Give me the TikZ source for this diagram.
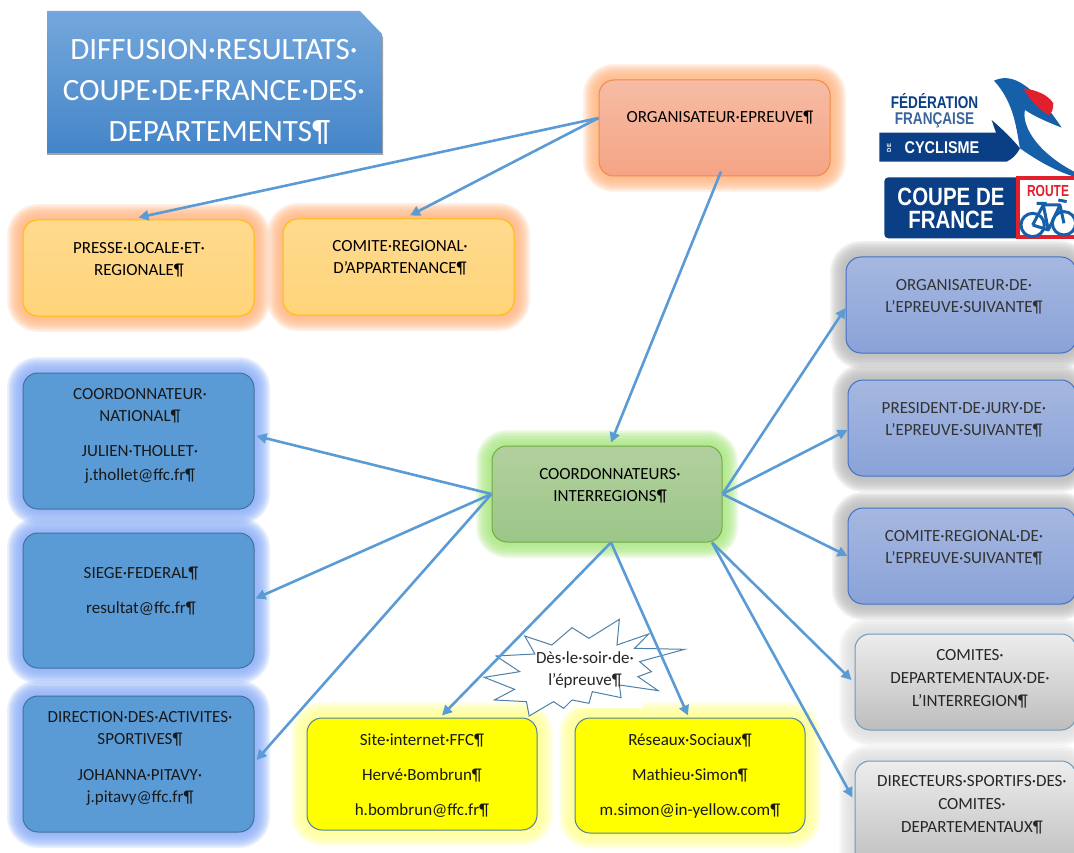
\documentclass[tikz,border=0pt]{standalone}
\usepackage{fontspec}
\setmainfont{Carlito}
\newfontfamily\logofont{Liberation Sans}
\usetikzlibrary{arrows.meta,backgrounds}
\definecolor{arrowblue}{RGB}{91,155,213}
\definecolor{logoblue}{RGB}{11,63,133}
\definecolor{logoswoosh}{RGB}{21,96,168}
\definecolor{logored}{RGB}{226,32,44}
\definecolor{titletop}{RGB}{116,167,220}\definecolor{titlebot}{RGB}{68,133,200}
\definecolor{orgline}{RGB}{240,138,75}\definecolor{orgtop}{RGB}{246,188,165}\definecolor{orgbot}{RGB}{245,164,132}
\definecolor{yelline}{RGB}{255,192,0}\definecolor{yeltop}{RGB}{255,218,142}\definecolor{yelbot}{RGB}{255,212,122}
\definecolor{grnline}{RGB}{112,173,71}\definecolor{grntop}{RGB}{178,208,158}\definecolor{grnbot}{RGB}{156,198,136}
\definecolor{bluline}{RGB}{65,113,156}\definecolor{blufill}{RGB}{91,155,213}
\definecolor{perline}{RGB}{68,114,196}\definecolor{pertop}{RGB}{165,184,224}\definecolor{perbot}{RGB}{138,162,216}
\definecolor{gryline}{RGB}{111,154,184}\definecolor{grytop}{RGB}{237,237,237}\definecolor{grybot}{RGB}{189,189,189}
\definecolor{ylwline}{RGB}{79,129,168}\definecolor{ylwfill}{RGB}{255,255,0}
\definecolor{gorange}{RGB}{255,180,128}\definecolor{gblue}{RGB}{138,173,247}\definecolor{ggreen}{RGB}{168,230,128}
\definecolor{ggrey}{RGB}{184,184,184}\definecolor{glight}{RGB}{220,220,220}\definecolor{gyellow}{RGB}{255,255,144}
\tikzset{
  x=1pt,y=-1pt,
  boxbase/.style={rectangle,rounded corners=15pt,line width=1pt,inner sep=0pt},
  txt/.style={align=center,inner sep=0pt,font=\fontsize{17}{22}\selectfont},
  orgbox/.style={boxbase,draw=orgline,top color=orgtop,bottom color=orgbot},
  yelbox/.style={boxbase,draw=yelline,top color=yeltop,bottom color=yelbot},
  greenbox/.style={boxbase,draw=grnline,top color=grntop,bottom color=grnbot},
  bluebox/.style={boxbase,draw=bluline,fill=blufill},
  perbox/.style={boxbase,draw=perline,top color=pertop,bottom color=perbot},
  greybox/.style={boxbase,draw=gryline,top color=grytop,bottom color=grybot},
  yellowbox/.style={boxbase,draw=ylwline,fill=ylwfill},
  conn/.style={draw=arrowblue,line width=2.6pt,-{Triangle[length=10pt,width=10pt]}},
  logotxt/.style={inner sep=0pt,text=logoblue,transform shape}
}
% name x0 y0 x1 y1 style glow
\newcommand{\bx}[7]{%
  \begin{pgfonlayer}{background}
    \foreach \r in {16,14.5,13,11.5,10,8.5,7,5.5,4,2.5,1}
      \draw[#7,opacity=.18,line width=2*\r pt,line join=round,rounded corners=15pt] (#2,#3) rectangle (#4,#5);
  \end{pgfonlayer}
  \node[#6,minimum width=#4pt-#2pt,minimum height=#5pt-#3pt] (#1) at ({(#2+#4)/2},{(#3+#5)/2}) {};
}
\begin{document}
\begin{tikzpicture}
\useasboundingbox (0,0) rectangle (1074,853);
\clip (0,0) rectangle (1074,853);

% title
\fill[black!60,opacity=.6] (47,15) -- (360,15) -- (383,37) -- (383,155) -- (47,155) -- cycle;
\shade[top color=titletop,bottom color=titlebot] (47,11) -- (360,11) -- (382,34) -- (382,153) -- (47,153) -- cycle;
\node[txt,text=white,font=\fontsize{31}{41}\selectfont] (title) at (214,92) {DIFFUSION·RESULTATS·\\COUPE·DE·FRANCE·DES·\\\hspace*{11pt}DEPARTEMENTS¶};

% boxes
\bx{org}{599}{80}{830}{176}{orgbox}{gorange}
\bx{press}{23}{220}{254}{316}{yelbox}{gorange}
\bx{comite}{283}{219}{514}{315}{yelbox}{gorange}
\bx{coord}{492}{446}{722}{542}{greenbox}{ggreen}
\bx{nat}{23}{373}{254}{509}{bluebox}{gblue}
\bx{siege}{23}{533}{254}{668}{bluebox}{gblue}
\bx{dir}{23}{696}{254}{832}{bluebox}{gblue}
\bx{orgs}{846}{257}{1076}{353}{perbox}{ggrey}
\bx{pres}{848}{380}{1076}{476}{perbox}{ggrey}
\bx{comreg}{848}{508}{1076}{604}{perbox}{ggrey}
\bx{comdep}{855}{634}{1076}{730}{greybox}{glight}
\bx{dirsp}{855}{761}{1076}{870}{greybox}{glight}
\bx{site}{307}{718}{537}{830}{yellowbox}{gyellow}
\bx{res}{575}{718}{805}{833}{yellowbox}{gyellow}

% star
\fill[white] (577,698) rectangle (643,708);
\begin{scope}[shift={(290,530)},xscale=0.3378,yscale=0.3333]
\draw[fill=white,draw=ylwline,line width=1pt,line join=miter]
 (610,378)--(725,372)--(695,318)--(775,345)--(835,293)--(885,325)--(975,268)--(968,345)--(1062,312)--(1020,355)--(1168,358)--(1035,395)--(1070,425)--(1030,440)--(1090,482)--(975,465)--(980,503)--(895,485)--(885,520)--(835,510)--(810,535)--(780,515)--(708,558)--(700,515)--(605,510)--(665,478)--(575,442)--(680,425)--cycle;
\end{scope}

% texts
\node[txt] (orgt) at (720,118) {ORGANISATEUR·EPREUVE¶};
\node[txt] (presst) at (139,260) {PRESSE·LOCALE·ET·\\REGIONALE¶};
\node[txt] (comitet) at (400,258) {COMITE·REGIONAL·\\D’APPARTENANCE¶};
\node[txt] (coordt) at (610,486) {COORDONNATEURS·\\INTERREGIONS¶};
\node[txt,text=black!90] (natt) at (140,436) {COORDONNATEUR·\\NATIONAL¶\\[13pt]JULIEN·THOLLET·\\[2pt]j.thollet@ffc.fr¶};
\node[txt,text=black!90] (siegt) at (141,591) {SIEGE·FEDERAL¶\\[13pt]resultat@ffc.fr¶};
\node[txt,text=black!90] (dirt) at (140,758) {DIRECTION·DES·ACTIVITES·\\SPORTIVES¶\\[14pt]JOHANNA·PITAVY·\\j.pitavy@ffc.fr¶};
\node[txt,text=black!80] (orgst) at (964,297) {ORGANISATEUR·DE·\\L’EPREUVE·SUIVANTE¶};
\node[txt,text=black!80] (prest) at (964,420) {PRESIDENT·DE·JURY·DE·\\L’EPREUVE·SUIVANTE¶};
\node[txt,text=black!80] (comregt) at (964,548) {COMITE·REGIONAL·DE·\\L’EPREUVE·SUIVANTE¶};
\node[txt,text=black!85,font=\fontsize{17}{23}\selectfont] (comdept) at (970,679) {COMITES·\\DEPARTEMENTAUX·DE·\\L’INTERREGION¶};
\node[txt,text=black!85,font=\fontsize{17}{23}\selectfont] (dirspt) at (972,805) {DIRECTEURS·SPORTIFS·DES·\\COMITES·\\DEPARTEMENTAUX¶};
\node[txt,text=black!90] (sitet) at (422,776) {Site·internet·FFC¶\\[13pt]Hervé·Bombrun¶\\[13pt]h.bombrun@ffc.fr¶};
\node[txt,text=black!90] (rest) at (690,776) {Réseaux·Sociaux¶\\[13pt]Mathieu·Simon¶\\[13pt]m.simon@in-yellow.com¶};
\node[txt,text=black!85] (start) at (585,670) {Dès·le·soir·de·\\l’épreuve¶};

% connectors
\draw[conn] ([yshift=10pt]org.west) -- ([yshift=2pt,xshift=0pt]press.north);
\draw[conn] ([yshift=10pt]org.west) -- ([xshift=11.5pt,yshift=3pt]comite.north);
\draw[conn] ([xshift=6.5pt,yshift=5pt]org.south) -- ([xshift=4pt,yshift=3pt]coord.north);
\draw[conn] (coord.west) -- ([xshift=2pt,yshift=5pt]nat.east);
\draw[conn] (coord.west) -- ([xshift=1pt,yshift=2pt]siege.east);
\draw[conn] (coord.west) -- ([xshift=2pt,yshift=4pt]dir.east);
\draw[conn] (coord.east) -- ([yshift=-3pt]orgs.west);
\draw[conn] (coord.east) -- ([yshift=-2pt]pres.west);
\draw[conn] (coord.east) -- (comreg.west);
\draw[conn] ([xshift=105pt]coord.south) -- ([xshift=-3pt,yshift=2pt]comdep.west);
\draw[conn] ([xshift=105pt]coord.south) -- ([xshift=-2pt,yshift=18pt]dirsp.west);
\draw[conn] ([xshift=4pt]coord.south) -- ([xshift=20pt,yshift=2pt]site.north);
\draw[conn] ([xshift=4pt]coord.south) -- ([xshift=-2pt,yshift=2pt]res.north);

% logos
\begin{scope}[shift={(840,60)},scale=0.3333]
\fill[logoblue] (118,218) -- (468,218) -- (455,180) .. controls (490,210) and (520,240) .. (540,265) .. controls (530,285) and (515,298) .. (500,305) -- (118,305) -- cycle;
\fill[logoswoosh] (462,62) .. controls (510,40) and (570,60) .. (665,203) .. controls (620,185) and (585,170) .. (555,150) .. controls (545,190) and (580,270) .. (702,335) -- (702,350) .. controls (640,330) and (590,300) .. (540,265) .. controls (530,215) and (525,130) .. cycle;
\fill[logored] (550,85) .. controls (590,90) and (625,105) .. (640,130) .. controls (640,150) and (635,160) .. (625,165) .. controls (595,145) and (565,115) .. cycle;
\fill[logoblue,rounded corners=4pt] (133,352) rectangle (560,535);
\fill[white] (530,352) rectangle (720,535);
\draw[logored,line width=4pt] (533,355) rectangle (720,532);
\draw[logoswoosh,line width=3pt] (578,495) circle (35) (672,490) circle (35);
\draw[logoswoosh,line width=3pt,line join=round] (578,495) -- (610,435) -- (660,435) -- (672,490) (610,435) -- (625,510) -- (578,495) (625,510) -- (660,435) (590,430)--(620,430) (655,420)--(680,425);
\end{scope}
\node[logotxt,xscale=.8,font=\logofont\bfseries\fontsize{17}{17}\selectfont] (lg1) at (934.5,101) {FÉDÉRATION};
\node[logotxt,xscale=.8,text=logoblue!80,font=\logofont\bfseries\fontsize{17}{17}\selectfont] (lg2) at (934.5,120) {FRANÇAISE};
\node[logotxt,xscale=.85,text=white,font=\logofont\bfseries\fontsize{17}{17}\selectfont] (lg3) at (942,148) {CYCLISME};
\node[logotxt,rotate=90,text=white,font=\logofont\bfseries\fontsize{6}{6}\selectfont] (lg4) at (889,148) {DE};
\node[logotxt,xscale=.82,text=white,align=center,font=\logofont\bfseries\fontsize{25}{23}\selectfont] (lg5) at (951,208) {COUPE DE\\FRANCE};
\node[logotxt,xscale=.75,text=logored,font=\logofont\bfseries\fontsize{16}{16}\selectfont] (lg6) at (1048,191) {ROUTE};
\end{tikzpicture}
\end{document}
